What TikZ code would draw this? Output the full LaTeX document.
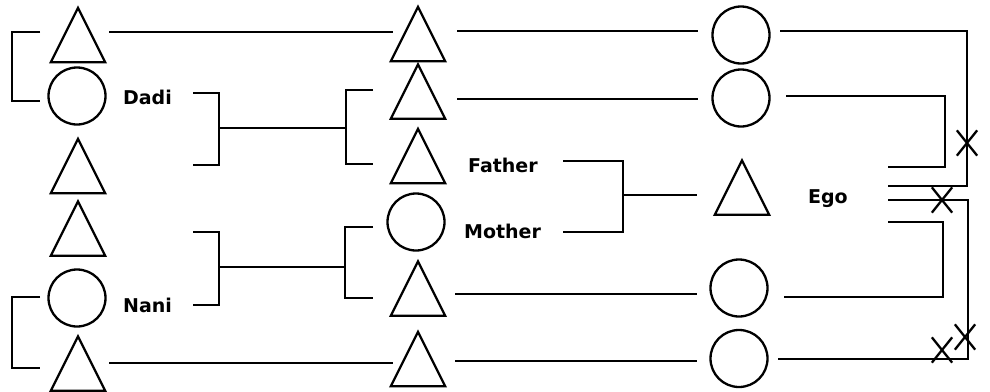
\documentclass[tikz,border=0pt]{standalone}
\usepackage{fontspec}
\newfontfamily\lblfont{DejaVu Sans}
\usetikzlibrary{shapes.misc}
\begin{document}
\begin{tikzpicture}[x=1pt,y=-1pt, line width=2.3pt,
 tri/.style={minimum width=52pt, minimum height=52pt, inner sep=0pt},
 circ/.style={circle, draw, minimum size=57pt, inner sep=0pt},
 lbl/.style={anchor=base west, inner sep=0pt, font=\lblfont\bfseries\fontsize{19}{22}\selectfont},
 xmark/.style={cross out, draw, minimum width=18pt, minimum height=23pt, inner sep=0pt}]
\useasboundingbox (0,0) rectangle (990,391);
% column 1
\node[tri] (t11) at (78,35) {};
\node[circ] (c12) at (77,96) {};
\node[tri] (t13) at (78,166) {};
\node[tri] (t14) at (78,228.5) {};
\node[circ] (c15) at (77,298) {};
\node[tri] (t16) at (78,363.5) {};
% column 2
\node[tri] (t21) at (418,34) {};
\node[tri] (t22) at (418,91.5) {};
\node[tri] (t23) at (418,156) {};
\node[circ] (c24) at (416,222) {};
\node[tri] (t25) at (418,288.5) {};
\node[tri] (t26) at (418,359) {};
% column 3
\node[circ] (c31) at (741,35) {};
\node[circ] (c32) at (741,98) {};
\node[tri] (t33) at (742,187.5) {};
\node[circ] (c35) at (739,288) {};
\node[circ] (c36) at (739,358.5) {};
\foreach \n in {t11,t13,t14,t16,t21,t22,t23,t25,t26,t33}
  \draw (\n.north) -- (\n.south east) -- (\n.south west) -- cycle;
% labels
\node[lbl] (dadi) at (122,104) {Dadi};
\node[lbl] (nani) at (122,312) {Nani};
\node[lbl] (father) at (467,172) {Father};
\node[lbl] (mother) at (463,238) {Mother};
\node[lbl] (ego) at (807,203) {Ego};
% row lines
\draw ([shift={(31,-3)}]t11.center) -- ([shift={(-25,-2)}]t21.center);
\draw ([shift={(39,-3)}]t21.center) -- ([shift={(-43,-4)}]c31.center);
\draw ([shift={(39,-4)}]c31.center) -| ([shift={(225,-1.5)}]t33.center) -- ([shift={(146,-1.5)}]t33.center);
\draw ([shift={(39,7.5)}]t22.center) -- ([shift={(-43,1)}]c32.center);
\draw ([shift={(45,-2)}]c32.center) -| ([shift={(203,-20.5)}]t33.center) -- ([shift={(146,-20.5)}]t33.center);
\draw ([shift={(37,5.5)}]t25.center) -- ([shift={(-42,6)}]c35.center);
\draw ([shift={(45,9)}]c35.center) -| ([shift={(201,34.5)}]t33.center) -- ([shift={(146,34.5)}]t33.center);
\draw ([shift={(31,-0.5)}]t16.center) -- ([shift={(-25,4)}]t26.center);
\draw ([shift={(37,2)}]t26.center) -- ([shift={(-42,2.5)}]c36.center);
\draw ([shift={(39,0.5)}]c36.center) -| ([shift={(226,12.5)}]t33.center) -- ([shift={(146,12.5)}]t33.center);
% left brackets
\draw ([shift={(-38,-3)}]t11.center) -- ++(-28,0) |- ([shift={(-37,5)}]c12.center);
\draw ([shift={(-37,-1)}]c15.center) -- ++(-28,0) |- ([shift={(-38,4.5)}]t16.center);
% Dadi bracket
\draw ([shift={(116,-3)}]c12.center) -- ++(26,0) |- ([shift={(115,-1)}]t13.center);
\coordinate (dJ) at (219,128);
\coordinate (dK) at (346,128);
\draw (dJ) -- (dK);
\draw ([shift={(-45,-1.5)}]t22.center) -- ++(-27,0) |- ([shift={(-45,8)}]t23.center);
% Nani bracket
\draw ([shift={(115,3.5)}]t14.center) -- ++(26,0) |- ([shift={(116,7)}]c15.center);
\coordinate (nJ) at (219,267);
\coordinate (nK) at (345,267);
\draw (nJ) -- (nK);
\draw ([shift={(-43,5)}]c24.center) -- ++(-28,0) |- ([shift={(-45,9.5)}]t25.center);
% Father / Mother bracket
\draw ([shift={(145,5)}]t23.center) -- ++(60,0) |- ([shift={(147,10)}]c24.center);
\coordinate (fJ) at (623,195);
\draw (fJ) -- ([shift={(-45,7.5)}]t33.center);
% cross marks
\node[xmark] (x1) at (967,143) {};
\node[xmark] (x2) at (942,200) {};
\node[xmark] (x3) at (942,350) {};
\node[xmark] (x4) at (965,337) {};
\end{tikzpicture}
\end{document}
